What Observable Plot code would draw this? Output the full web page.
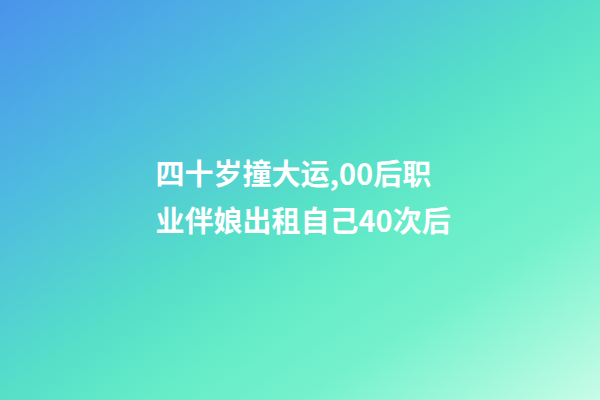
<!DOCTYPE html>
<html>
<head>
<meta charset="utf-8">
<script src="https://cdn.jsdelivr.net/npm/d3@7"></script>
<script src="https://cdn.jsdelivr.net/npm/@observablehq/plot@0.6"></script>
<style>
  html, body { margin: 0; padding: 0; width: 600px; height: 400px; overflow: hidden; }
  #chart svg { display: block; }
</style>
</head>
<body>
<div id="chart"></div>
<script>
const lines = ["四十岁撞大运,00后职", "业伴娘出租自己40次后"];
const lineIndex = [0, 1];

const chart = Plot.plot({
  width: 600,
  height: 400,
  margin: 0,
  x: {domain: [0, 600], axis: null},
  y: {type: "point", domain: lineIndex, range: [175, 222], padding: 0, axis: null},
  style: {
    background: "linear-gradient(to bottom right, #4a93ec 0%, #4ebae0 25%, #56e0c8 50%, #66ecc8 62.5%, #74f1cc 75%, #9cf7d9 87.5%, #c8fce8 100%)"
  },
  marks: [
    Plot.text(lines, {
      y: (d, i) => lineIndex[i],
      frameAnchor: "left",
      dx: 155,
      text: d => d,
      textAnchor: "start",
      lineAnchor: "middle",
      fill: "white",
      fontSize: 29,
      fontWeight: 700,
      fontFamily: "'Noto Sans CJK SC', 'Noto Sans', sans-serif"
    })
  ]
});
document.getElementById("chart").appendChild(chart);
</script>
</body>
</html>
